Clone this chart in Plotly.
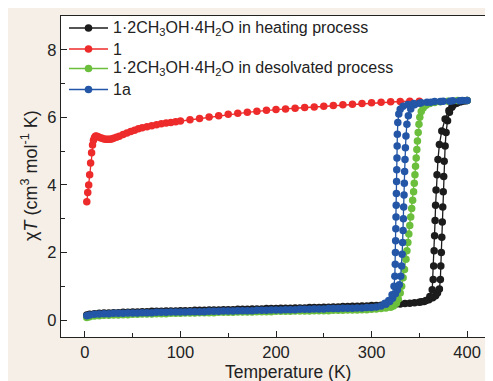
import plotly.graph_objects as go

# ---------------- data ----------------
red_T = [2, 3, 4, 5, 6, 7, 8, 9, 10, 11, 12, 14, 16, 18, 20, 22, 24, 26, 28, 30,
         33, 36, 40, 44, 48, 52, 56, 60, 65, 70, 75, 80, 85, 90, 95, 100,
         110, 120, 130, 140, 150, 160, 170, 180, 190, 200, 210, 220, 230, 240,
         250, 260, 270, 280, 290, 300, 310, 320, 330, 340, 350]
red_v = [3.50, 3.78, 4.00, 4.30, 4.65, 4.95, 5.18, 5.32, 5.40, 5.44, 5.45, 5.43,
         5.40, 5.38, 5.36, 5.35, 5.35, 5.35, 5.36, 5.38, 5.41, 5.44, 5.49, 5.54,
         5.58, 5.62, 5.66, 5.69, 5.72, 5.75, 5.78, 5.81, 5.83, 5.85, 5.87, 5.89,
         5.93, 5.97, 6.01, 6.05, 6.09, 6.12, 6.15, 6.18, 6.21, 6.23, 6.25, 6.27,
         6.29, 6.31, 6.33, 6.35, 6.37, 6.39, 6.41, 6.43, 6.45, 6.46, 6.47, 6.48, 6.48]

black_T = [2, 5, 10, 15, 20, 25, 30, 35, 40, 45, 50, 55, 60, 65, 70, 75, 80, 85, 90, 95,
           100, 105, 110, 115, 120, 125, 130, 135, 140, 145, 150, 155, 160, 165, 170,
           175, 180, 185, 190, 195, 200, 205, 210, 215, 220, 225, 230, 235, 240, 245,
           250, 255, 260, 265, 270, 275, 280, 285, 290, 295, 300, 305, 310, 315, 320,
           325, 330, 335, 340, 345, 350, 355,
           360, 364, 367, 369, 371, 372, 372.5, 373, 373.5, 374, 374.5, 375, 375.5, 376,
           377, 378, 379.5, 381.5, 384, 387, 390, 394, 398, 400,
           397, 393, 389, 385, 381, 377, 373.5, 371, 369.5, 368.5, 367.5, 367, 366.5,
           366, 365.5, 365, 364.5, 363.5, 361, 357, 352]
black_v = [0.15, 0.17, 0.19, 0.20, 0.21, 0.21, 0.22, 0.22, 0.23, 0.23, 0.24, 0.24, 0.25,
           0.25, 0.26, 0.26, 0.26, 0.27, 0.27, 0.27, 0.28, 0.28, 0.28, 0.29, 0.29, 0.29,
           0.30, 0.30, 0.30, 0.31, 0.31, 0.31, 0.32, 0.32, 0.32, 0.33, 0.33, 0.33, 0.34,
           0.34, 0.34, 0.35, 0.35, 0.35, 0.36, 0.36, 0.36, 0.37, 0.37, 0.37, 0.38, 0.38,
           0.39, 0.39, 0.40, 0.40, 0.41, 0.41, 0.42, 0.42, 0.43, 0.43, 0.44, 0.45, 0.46,
           0.47, 0.48, 0.49, 0.50, 0.51, 0.53, 0.55,
           0.60, 0.66, 0.72, 0.80, 0.92, 1.20, 1.60, 2.00, 2.45, 2.90, 3.35, 3.80, 4.25,
           4.70, 5.15, 5.55, 5.90, 6.15, 6.30, 6.40, 6.44, 6.47, 6.49, 6.50,
           6.49, 6.46, 6.42, 6.35, 6.20, 5.95, 5.60, 5.20, 4.75, 4.30, 3.85, 3.40, 2.95,
           2.50, 2.05, 1.60, 1.20, 0.90, 0.70, 0.58, 0.54]

green_T = [2, 5, 10, 15, 20, 25, 30, 35, 40, 45, 50, 55, 60, 65, 70, 75, 80, 85, 90, 95,
           100, 105, 110, 115, 120, 125, 130, 135, 140, 145, 150, 155, 160, 165, 170,
           175, 180, 185, 190, 195, 200, 205, 210, 215, 220, 225, 230, 235, 240, 245,
           250, 255, 260, 265, 270, 275, 280, 285, 290, 295, 300, 305, 310, 315, 320,
           323, 326, 328, 330, 331.5, 333, 334.5, 336, 337, 338, 339, 340, 341, 342, 343,
           344, 344.7, 345.4, 346, 346.7, 347.4, 348, 348.8, 349.6, 350.5, 352, 354, 357,
           361, 366, 372, 380, 390, 400]
green_v = [0.08, 0.10, 0.12, 0.13, 0.14, 0.14, 0.15, 0.15, 0.16, 0.16, 0.17, 0.17, 0.18,
           0.18, 0.18, 0.19, 0.19, 0.19, 0.20, 0.20, 0.20, 0.21, 0.21, 0.21, 0.22, 0.22,
           0.22, 0.22, 0.23, 0.23, 0.23, 0.23, 0.24, 0.24, 0.24, 0.24, 0.25, 0.25, 0.25,
           0.25, 0.26, 0.26, 0.26, 0.26, 0.27, 0.27, 0.27, 0.27, 0.28, 0.28, 0.28, 0.28,
           0.29, 0.29, 0.29, 0.30, 0.30, 0.30, 0.31, 0.31, 0.32, 0.33, 0.34, 0.36, 0.38,
           0.42, 0.50, 0.62, 0.80, 1.00, 1.25, 1.50, 1.80, 2.05, 2.30, 2.55, 2.80, 3.05,
           3.30, 3.55, 3.80, 4.05, 4.30, 4.55, 4.80, 5.05, 5.30, 5.55, 5.80, 6.00, 6.17,
           6.28, 6.36, 6.41, 6.44, 6.46, 6.48, 6.50, 6.50]

blue_T = [2, 5, 10, 15, 20, 25, 30, 35, 40, 45, 50, 55, 60, 65, 70, 75, 80, 85, 90, 95,
          100, 105, 110, 115, 120, 125, 130, 135, 140, 145, 150, 155, 160, 165, 170,
          175, 180, 185, 190, 195, 200, 205, 210, 215, 220, 225, 230, 235, 240, 245,
          250, 255, 260, 265, 270, 275, 280, 285, 290, 295, 300, 305, 310, 315,
          319, 322, 325, 327, 329, 330.5, 331.5, 332, 332.5, 333, 333.3, 333.6, 334,
          334.3, 334.6, 335, 335.4, 336, 337, 338.5, 341, 345, 350, 358, 366, 375, 385,
          395, 400,
          392, 382, 372, 362, 352, 344, 338, 333, 330, 328.5, 327.5, 327, 326.8, 326.6,
          326.4, 326.2, 326, 325.8, 325.6, 325.4, 325.2, 325, 324.8, 324.4, 323.5,
          321.5, 318, 314]
blue_v = [0.13, 0.15, 0.17, 0.18, 0.19, 0.19, 0.20, 0.20, 0.20, 0.21, 0.21, 0.21, 0.22,
          0.22, 0.22, 0.23, 0.23, 0.23, 0.24, 0.24, 0.24, 0.24, 0.25, 0.25, 0.25, 0.25,
          0.26, 0.26, 0.26, 0.27, 0.27, 0.27, 0.28, 0.28, 0.28, 0.28, 0.29, 0.29, 0.29,
          0.30, 0.30, 0.30, 0.31, 0.31, 0.31, 0.32, 0.32, 0.32, 0.33, 0.33, 0.33, 0.34,
          0.34, 0.34, 0.35, 0.35, 0.35, 0.36, 0.36, 0.37, 0.37, 0.39, 0.42, 0.47,
          0.55, 0.65, 0.78, 0.90, 1.05, 1.30, 1.60, 1.95, 2.30, 2.65, 3.00, 3.35, 3.70,
          4.05, 4.40, 4.75, 5.10, 5.45, 5.80, 6.05, 6.25, 6.37, 6.42, 6.45, 6.47, 6.48,
          6.49, 6.50, 6.50,
          6.49, 6.48, 6.47, 6.45, 6.43, 6.41, 6.38, 6.33, 6.24, 6.10, 5.85, 5.50, 5.15,
          4.80, 4.45, 4.10, 3.75, 3.40, 3.05, 2.70, 2.35, 2.00, 1.65, 1.30, 1.00, 0.75,
          0.58, 0.50]

names = ["1·2CH<sub>3</sub>OH·4H<sub>2</sub>O in heating process",
         "1",
         "1·2CH<sub>3</sub>OH·4H<sub>2</sub>O in desolvated process",
         "1a"]
colors = ["#1c1c1c", "#ee2b2b", "#6cbf3c", "#2356a6"]

x_ticks = [0, 100, 200, 300, 400]
y_ticks = [0, 2, 4, 6, 8]

# ---------------- figure ----------------
FONT = "Liberation Sans, Arial, sans-serif"
fig = go.Figure()
series = [(black_T, black_v), (red_T, red_v), (green_T, green_v), (blue_T, blue_v)]
for (tx, ty), nm, c in zip(series, names, colors):
    fig.add_trace(go.Scatter(
        x=tx, y=ty, name=nm, mode="lines+markers", showlegend=False,
        line=dict(color=c, width=1.3),
        marker=dict(color=c, size=7.5, line=dict(width=0)),
    ))

axis_common = dict(
    showline=True, mirror=True, linecolor="#222", linewidth=1.3,
    ticks="inside", ticklen=6, tickwidth=1.1, tickcolor="#222",
    showgrid=False, zeroline=False, automargin=False,
    tickfont=dict(family=FONT, size=16.5, color="#222"),
)
fig.update_xaxes(range=[-25, 425], tickvals=x_ticks,
                 minor=dict(dtick=50, tick0=0, ticks="inside", ticklen=4,
                            tickwidth=1.1, tickcolor="#222"),
                 **axis_common)
fig.update_yaxes(range=[-0.5, 9], tickvals=y_ticks,
                 minor=dict(dtick=1, tick0=0, ticks="inside", ticklen=4,
                            tickwidth=1.1, tickcolor="#222"),
                 **axis_common)

# plot area in figure pixels
W, H = 493, 381
L, R, T, B = 53, 483, 8, 329
def px(xp):
    return (xp - L) / (R - L)
def py(yp):
    return (B - yp) / (B - T)

fig.add_annotation(text="Temperature (K)", xref="paper", yref="paper",
                   x=px(280), y=py(364), xanchor="center", yanchor="middle",
                   showarrow=False,
                   font=dict(family=FONT, size=17.5, color="#222"))
fig.add_annotation(text="χ<i>T</i> (cm<sup>3</sup> mol<sup>-1</sup> K)",
                   xref="paper", yref="paper", x=px(21), y=py(168),
                   xanchor="center", yanchor="middle",
                   textangle=-90, showarrow=False,
                   font=dict(family=FONT, size=18, color="#222"))

# legend (drawn in the upper-left of the plot)
leg_rows = [20, 41, 60.5, 81.5]
line_x0, line_x1, text_x = 61, 100, 103
mr = 3.8
for yrow, nm, c in zip(leg_rows, names, colors):
    fig.add_shape(type="line", xref="paper", yref="paper",
                  x0=px(line_x0), x1=px(line_x1), y0=py(yrow), y1=py(yrow),
                  line=dict(color=c, width=1.3))
    cx = (line_x0 + line_x1) / 2
    fig.add_shape(type="circle", xref="paper", yref="paper",
                  x0=px(cx - mr), x1=px(cx + mr), y0=py(yrow + mr), y1=py(yrow - mr),
                  fillcolor=c, line=dict(width=0))
    fig.add_annotation(text=nm, xref="paper", yref="paper",
                       x=px(text_x), y=py(yrow), xanchor="left", yanchor="middle",
                       showarrow=False,
                       font=dict(family=FONT, size=16, color="#222"))

fig.update_layout(
    width=W, height=H,
    margin=dict(l=L, r=W - R, t=T, b=H - B),
    paper_bgcolor="#f5efe7", plot_bgcolor="white",
    showlegend=False,
    font=dict(family=FONT, color="#222"),
)

fig.write_html("out.html")
